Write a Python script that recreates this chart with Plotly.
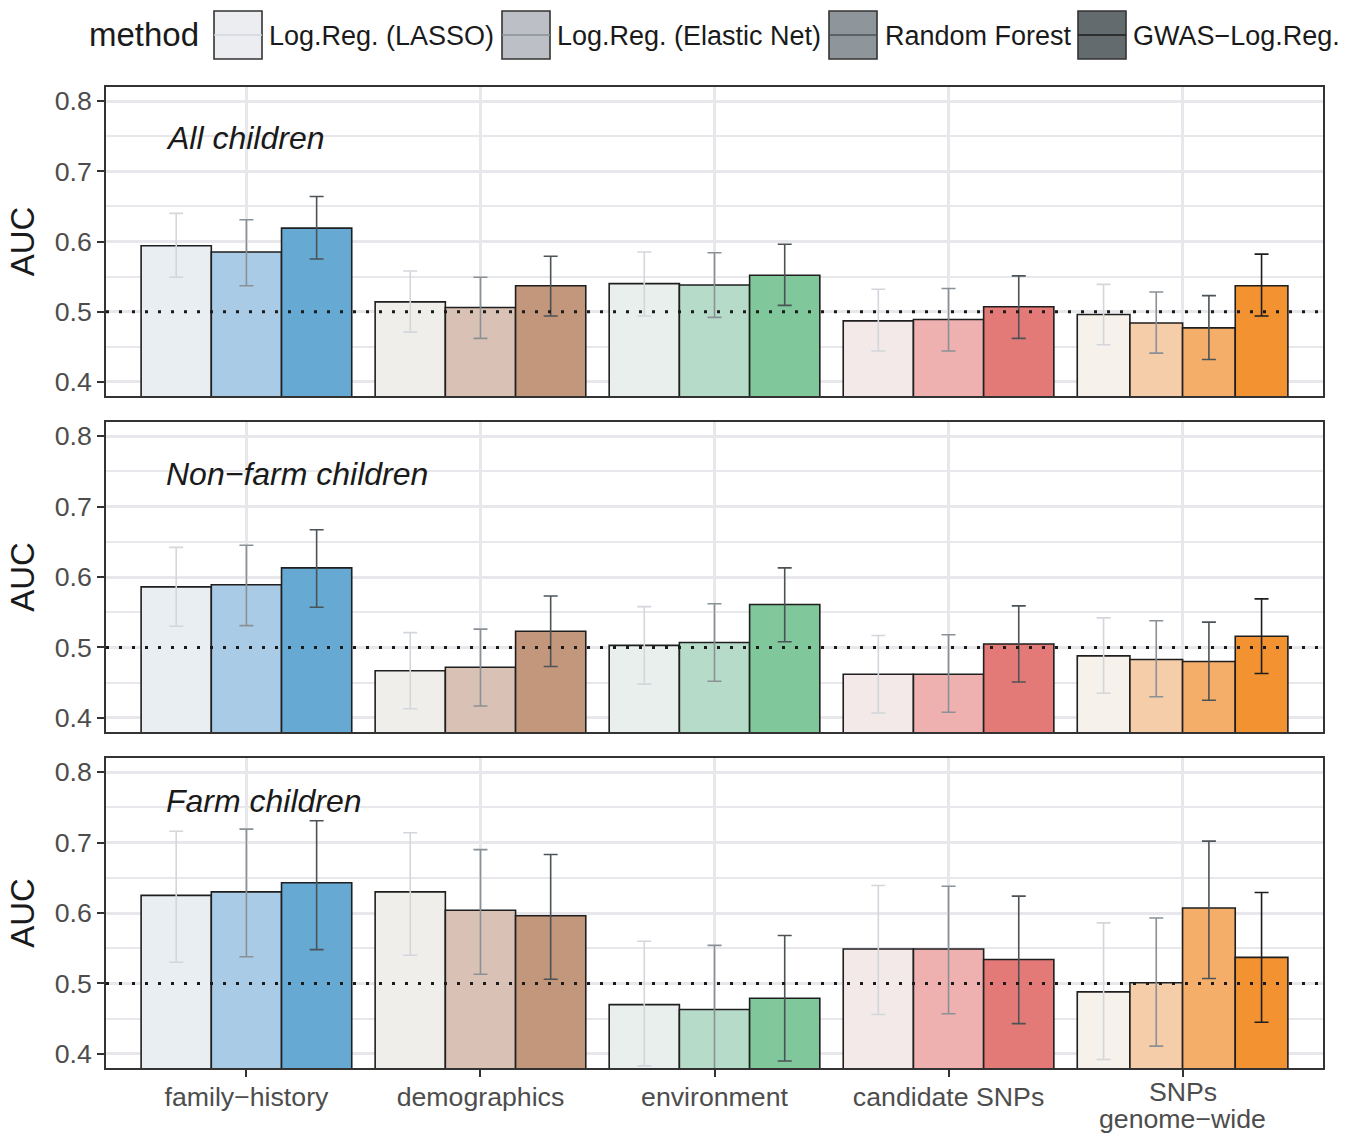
import plotly.graph_objects as go

# ---------------- data ----------------
categories = ["family\u2212history", "demographics", "environment", "candidate SNPs", "SNPs<br>genome\u2212wide"]
methods = ["Log.Reg. (LASSO)", "Log.Reg. (Elastic Net)", "Random Forest", "GWAS\u2212Log.Reg."]
facets = ["All children", "Non\u2212farm children", "Farm children"]

# All children
all_lasso = [0.594, 0.514, 0.540, 0.487, 0.496]
all_lasso_lo = [0.549, 0.471, 0.494, 0.444, 0.453]
all_lasso_hi = [0.640, 0.558, 0.585, 0.532, 0.539]
all_en = [0.585, 0.506, 0.538, 0.489, 0.484]
all_en_lo = [0.537, 0.462, 0.492, 0.444, 0.441]
all_en_hi = [0.631, 0.549, 0.584, 0.533, 0.528]
all_rf = [0.619, 0.537, 0.552, 0.507, 0.477]
all_rf_lo = [0.575, 0.494, 0.509, 0.462, 0.432]
all_rf_hi = [0.664, 0.579, 0.596, 0.551, 0.523]
all_gwas = [None, None, None, None, 0.537]
all_gwas_lo = [None, None, None, None, 0.494]
all_gwas_hi = [None, None, None, None, 0.582]

# Non-farm children
nf_lasso = [0.586, 0.467, 0.503, 0.462, 0.488]
nf_lasso_lo = [0.530, 0.413, 0.448, 0.407, 0.435]
nf_lasso_hi = [0.642, 0.521, 0.558, 0.517, 0.542]
nf_en = [0.589, 0.472, 0.507, 0.462, 0.483]
nf_en_lo = [0.531, 0.417, 0.452, 0.408, 0.430]
nf_en_hi = [0.645, 0.526, 0.562, 0.518, 0.538]
nf_rf = [0.613, 0.523, 0.561, 0.505, 0.480]
nf_rf_lo = [0.557, 0.473, 0.508, 0.451, 0.425]
nf_rf_hi = [0.667, 0.573, 0.613, 0.559, 0.536]
nf_gwas = [None, None, None, None, 0.516]
nf_gwas_lo = [None, None, None, None, 0.463]
nf_gwas_hi = [None, None, None, None, 0.569]

# Farm children
fa_lasso = [0.625, 0.630, 0.470, 0.549, 0.488]
fa_lasso_lo = [0.530, 0.540, 0.383, 0.456, 0.392]
fa_lasso_hi = [0.716, 0.714, 0.560, 0.639, 0.586]
fa_en = [0.630, 0.604, 0.463, 0.549, 0.501]
fa_en_lo = [0.538, 0.513, 0.372, 0.457, 0.411]
fa_en_hi = [0.719, 0.690, 0.554, 0.638, 0.593]
fa_rf = [0.643, 0.596, 0.479, 0.534, 0.607]
fa_rf_lo = [0.548, 0.506, 0.390, 0.443, 0.507]
fa_rf_hi = [0.731, 0.683, 0.568, 0.624, 0.702]
fa_gwas = [None, None, None, None, 0.537]
fa_gwas_lo = [None, None, None, None, 0.445]
fa_gwas_hi = [None, None, None, None, 0.629]

panel_data = [
    [(all_lasso, all_lasso_lo, all_lasso_hi), (all_en, all_en_lo, all_en_hi),
     (all_rf, all_rf_lo, all_rf_hi), (all_gwas, all_gwas_lo, all_gwas_hi)],
    [(nf_lasso, nf_lasso_lo, nf_lasso_hi), (nf_en, nf_en_lo, nf_en_hi),
     (nf_rf, nf_rf_lo, nf_rf_hi), (nf_gwas, nf_gwas_lo, nf_gwas_hi)],
    [(fa_lasso, fa_lasso_lo, fa_lasso_hi), (fa_en, fa_en_lo, fa_en_hi),
     (fa_rf, fa_rf_lo, fa_rf_hi), (fa_gwas, fa_gwas_lo, fa_gwas_hi)],
]

y_ticks = [0.4, 0.5, 0.6, 0.7, 0.8]
y_tick_labels = ["0.4", "0.5", "0.6", "0.7", "0.8"]
y_minor = [0.45, 0.55, 0.65, 0.75]
chance_level = 0.5

# ---------------- styles ----------------
fill_colors = [  # per category, per method
    ["#e9eef3", "#aacbe6", "#66aad4", None],
    ["#efeeeb", "#d9c2b5", "#c3977c", None],
    ["#e9efed", "#b7dbc9", "#81c79c", None],
    ["#f3e9e8", "#efb0b0", "#e47a77", None],
    ["#f6f1ea", "#f5cda8", "#f4ae6a", "#f29230"],
]
err_colors = ["#d3d6db", "#8a9196", "#4b5357", "#1e1e1e"]
legend_fills = ["#ecedf1", "#bcc0c6", "#8e959b", "#636b6e"]

FONT = "Liberation Sans, Arial, sans-serif"
TICK_SIZE = 26.7
W, H = 1354, 1135
ML, MR, MT, MB = 106, 31, 87, 67
PW, PH = W - ML - MR, H - MT - MB
panels_px = [(87, 396), (422, 732), (758, 1068)]


def px_x(px):
    return (px - ML) / PW


def px_y(py):
    return (H - MB - py) / PH


fig = go.Figure()

group_w = 0.9
for r, pdata in enumerate(panel_data):
    axn = "" if r == 0 else str(r + 1)
    for m in range(len(methods)):
        xs, ys, ws, cols, ep, em = [], [], [], [], [], []
        vals, los, his = pdata[m]
        for c in range(len(categories)):
            if vals[c] is None:
                continue
            present = [k for k in range(len(methods)) if pdata[k][0][c] is not None]
            n = len(present)
            j = present.index(m)
            w = group_w / n
            xs.append((c + 1) - group_w / 2 + w * (j + 0.5))
            ys.append(vals[c])
            ws.append(w)
            cols.append(fill_colors[c][m])
            ep.append(his[c] - vals[c])
            em.append(vals[c] - los[c])
        fig.add_trace(go.Bar(
            x=xs, y=ys, width=ws, base=0,
            marker=dict(color=cols, line=dict(color="#1f1f1f", width=1.6)),
            error_y=dict(type="data", symmetric=False, array=ep, arrayminus=em,
                         color=err_colors[m], thickness=1.6, width=7),
            name=methods[m], showlegend=False,
            xaxis="x" + axn, yaxis="y" + axn,
        ))

# single-line category names go on the axis; two-line ones are set as annotations
# with ggplot's tighter line spacing
axis_ticktext = [t if "<br>" not in t else "" for t in categories]

grid_c = "#e8e8ec"
layout = dict(
    width=W, height=H,
    margin=dict(l=ML, r=MR, t=MT, b=MB, autoexpand=False),
    paper_bgcolor="white", plot_bgcolor="white",
    font=dict(family=FONT, size=27, color="#1a1a1a"),
    barmode="overlay",
    showlegend=False,
)
for r, (top, bot) in enumerate(panels_px):
    axn = "" if r == 0 else str(r + 1)
    last = r == 2
    layout["xaxis" + axn] = dict(
        domain=[0, 1], range=[0.4, 5.6], anchor="y" + axn,
        tickvals=[1, 2, 3, 4, 5], ticktext=axis_ticktext,
        showticklabels=last, ticks="outside" if last else "",
        ticklen=7, tickwidth=1.6, tickcolor="#333333", ticklabelstandoff=-3,
        tickfont=dict(size=TICK_SIZE, color="#4d4d4d", family=FONT),
        showgrid=True, gridcolor=grid_c, gridwidth=3,
        showline=True, mirror=True, linecolor="#333333", linewidth=1.6,
        zeroline=False, automargin=False,
    )
    layout["yaxis" + axn] = dict(
        domain=[px_y(bot), px_y(top)], range=[0.38, 0.82], anchor="x" + axn,
        tickvals=y_ticks, ticktext=y_tick_labels,
        ticks="outside", ticklen=7, tickwidth=1.6, tickcolor="#333333",
        tickfont=dict(size=TICK_SIZE, color="#4d4d4d", family=FONT),
        showgrid=True, gridcolor=grid_c, gridwidth=3,
        minor=dict(tickvals=y_minor, showgrid=True, gridcolor=grid_c, gridwidth=1.5, ticks=""),
        showline=True, mirror=True, linecolor="#333333", linewidth=1.6,
        zeroline=False, automargin=False,
        title=dict(text="AUC", font=dict(size=33, color="#1a1a1a", family=FONT), standoff=10),
    )

fig.update_layout(**layout)

line_y_px = [1092, 1119]
for c, txt in enumerate(categories):
    if "<br>" in txt:
        for k, part in enumerate(txt.split("<br>")):
            fig.add_annotation(text=part, xref="x3", yref="paper", x=c + 1, y=px_y(line_y_px[k]),
                               xanchor="center", yanchor="middle", showarrow=False,
                               font=dict(size=TICK_SIZE, color="#4d4d4d", family=FONT))

# chance level lines
for r in range(3):
    axn = "" if r == 0 else str(r + 1)
    fig.add_shape(type="line", xref=("x" + axn) + " domain", yref="y" + axn,
                  x0=0, x1=1, y0=chance_level, y1=chance_level,
                  line=dict(color="#1a1a1a", width=3, dash="3px,10px"), layer="above")

# facet labels
facet_y_px = [138, 474, 801]
for r, name in enumerate(facets):
    fig.add_annotation(text="<i>" + name + "</i>", xref="paper", yref="paper",
                       x=px_x(164), y=px_y(facet_y_px[r]), xanchor="left", yanchor="middle",
                       showarrow=False, font=dict(size=32, color="#1a1a1a", family=FONT))

# legend (drawn manually, ggplot style)
fig.add_annotation(text="method", xref="paper", yref="paper", x=px_x(87), y=px_y(35),
                   xanchor="left", yanchor="middle", showarrow=False,
                   font=dict(size=33, color="#1a1a1a", family=FONT))
key_left = [214, 502, 829, 1078]
text_left = [267, 555, 883, 1131]
for m, name in enumerate(methods):
    x0, x1 = px_x(key_left[m]), px_x(key_left[m] + 48)
    y0, y1 = px_y(59), px_y(11)
    fig.add_shape(type="rect", xref="paper", yref="paper", x0=x0, x1=x1, y0=y0, y1=y1,
                  fillcolor=legend_fills[m], line=dict(color="#333333", width=1.6))
    fig.add_shape(type="line", xref="paper", yref="paper", x0=x0, x1=x1,
                  y0=px_y(35), y1=px_y(35), line=dict(color=err_colors[m], width=1.6))
    fig.add_annotation(text=name, xref="paper", yref="paper", x=px_x(text_left[m]), y=px_y(36),
                       xanchor="left", yanchor="middle", showarrow=False,
                       font=dict(size=27, color="#1a1a1a", family=FONT))

fig.write_html("out.html", config={"displayModeBar": False},
               post_script="document.body.style.margin='0';document.body.style.overflow='hidden';")
